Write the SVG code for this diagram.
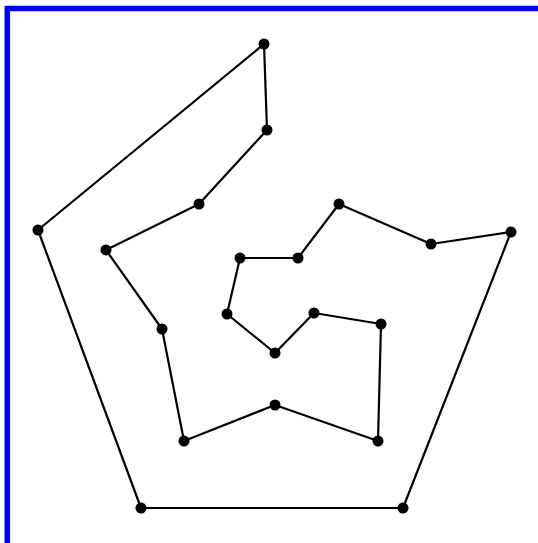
<svg xmlns="http://www.w3.org/2000/svg" width="538" height="543" viewBox="0 0 538 543">
<style>
.frame{fill:none;stroke:#0000ff;stroke-width:5.5}
.edge{fill:none;stroke:#000;stroke-width:2.2;stroke-linejoin:round}
.pt{fill:#000}
</style>
<rect width="538" height="543" fill="#fff"/>
<rect class="frame" x="7.3" y="8.5" width="540" height="540"/>
<g id="connectors">
<polygon class="edge" points="264,44 267,130 199,204 106,250 162,329 184,441 275,405 378,441 381,324 314,313 275,353 227,314 240,258 298,258 339,204 431,244 511,232 403,508 141,508 38,230"/>
</g>
<g id="nodes">
<circle id="n1" class="pt" cx="264" cy="44" r="5.5"/>
<circle id="n2" class="pt" cx="267" cy="130" r="5.5"/>
<circle id="n3" class="pt" cx="199" cy="204" r="5.5"/>
<circle id="n4" class="pt" cx="106" cy="250" r="5.5"/>
<circle id="n5" class="pt" cx="162" cy="329" r="5.5"/>
<circle id="n6" class="pt" cx="184" cy="441" r="5.5"/>
<circle id="n7" class="pt" cx="275" cy="405" r="5.5"/>
<circle id="n8" class="pt" cx="378" cy="441" r="5.5"/>
<circle id="n9" class="pt" cx="381" cy="324" r="5.5"/>
<circle id="n10" class="pt" cx="314" cy="313" r="5.5"/>
<circle id="n11" class="pt" cx="275" cy="353" r="5.5"/>
<circle id="n12" class="pt" cx="227" cy="314" r="5.5"/>
<circle id="n13" class="pt" cx="240" cy="258" r="5.5"/>
<circle id="n14" class="pt" cx="298" cy="258" r="5.5"/>
<circle id="n15" class="pt" cx="339" cy="204" r="5.5"/>
<circle id="n16" class="pt" cx="431" cy="244" r="5.5"/>
<circle id="n17" class="pt" cx="511" cy="232" r="5.5"/>
<circle id="n18" class="pt" cx="403" cy="508" r="5.5"/>
<circle id="n19" class="pt" cx="141" cy="508" r="5.5"/>
<circle id="n20" class="pt" cx="38" cy="230" r="5.5"/>
</g>
</svg>
